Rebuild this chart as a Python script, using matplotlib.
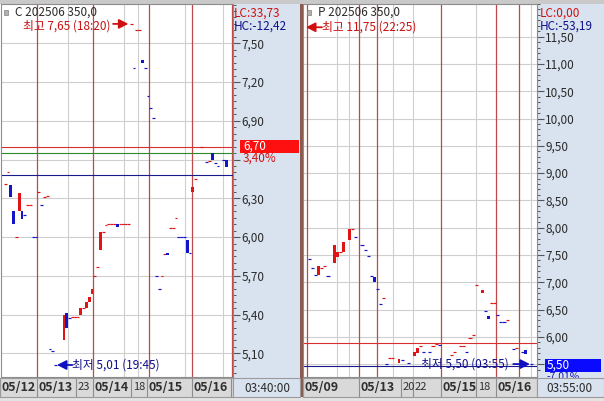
import matplotlib
matplotlib.use("Agg")
import matplotlib.pyplot as plt
from matplotlib.patches import Rectangle
from matplotlib.transforms import offset_copy

plt.rcParams['font.family'] = ['Noto Sans CJK KR', 'DejaVu Sans']

W, H = 604, 401
fig = plt.figure(figsize=(W / 100, H / 100), dpi=100)
fig.patch.set_facecolor('white')

UP = '#e01414'
DOWN = '#1414c8'
SEP = '#c04848'
GRID = '#cfcfcf'
PANEL = '#d9e3ef'
NAVY = '#10108a'
TXT = '#2a2a2a'

# ---------------- Call 202506 350.0 (bar index, open, close, up-tick) ----------------
call_slot = [1, 2, 3, 4, 5, 6, 7, 8, 9, 10, 11, 12,
             13, 14, 15, 16, 17, 18, 19, 22, 23, 24, 25, 26, 27, 28, 29, 30, 31, 32,
             33, 34, 35, 36, 37, 38, 39, 40, 41, 42, 43, 44, 45, 46, 47, 48, 49, 50, 51, 52,
             53, 54, 55, 56, 57, 58, 59, 60, 61, 62, 63, 64, 65, 66, 67,
             68, 69, 71, 73, 74, 75, 76, 77, 79, 80]
call_open = [6.41, 6.50, 6.40, 6.20, 6.00, 6.20, 6.20, 6.17, 6.25, 6.25, 6.00, 6.00,
             6.35, 6.25, 6.31, 6.32, 5.13, 5.12, 5.01, 5.20, 5.41, 5.37, 5.38, 5.38, 5.38, 5.40, 5.45, 5.45, 5.50, 5.56,
             5.70, 5.77, 5.90, 6.04, 6.09, 6.10, 6.10, 6.10, 6.10, 6.10, 6.10, 6.10, 6.10, 7.65, 7.31, 7.60, 7.60, 7.37, 7.31, 7.09,
             7.00, 6.92, 5.70, 5.60, 5.70, 5.87, 5.88, 6.07, 6.07, 6.15, 6.00, 6.00, 6.00, 5.98, 5.88,
             6.35, 6.45, 6.70, 6.58, 6.59, 6.65, 6.57, 6.55, 6.60, 6.60]
call_close = [6.41, 6.50, 6.31, 6.10, 6.00, 6.34, 6.14, 6.17, 6.25, 6.25, 6.00, 6.00,
              6.35, 6.25, 6.31, 6.32, 5.13, 5.12, 5.01, 5.40, 5.30, 5.37, 5.38, 5.38, 5.38, 5.45, 5.45, 5.50, 5.54, 5.60,
              5.70, 5.77, 6.04, 6.04, 6.09, 6.10, 6.10, 6.10, 6.075, 6.10, 6.10, 6.10, 6.10, 7.65, 7.31, 7.60, 7.60, 7.35, 7.31, 7.09,
              7.00, 6.92, 5.70, 5.60, 5.70, 5.87, 5.86, 6.07, 6.07, 6.15, 6.00, 6.00, 6.00, 5.88, 5.88,
              6.39, 6.45, 6.70, 6.58, 6.59, 6.60, 6.57, 6.55, 6.60, 6.545]
call_up = [1, 1, 0, 0, 1, 1, 0, 0, 1, 1, 0, 0,
           1, 0, 1, 1, 0, 0, 0, 1, 0, 0, 1, 1, 1, 1, 1, 1, 1, 1,
           1, 1, 1, 1, 1, 1, 1, 1, 0, 1, 1, 1, 1, 1, 0, 1, 1, 0, 0, 0,
           0, 0, 0, 0, 1, 1, 0, 1, 1, 1, 0, 0, 0, 0, 0,
           1, 1, 1, 0, 1, 0, 0, 0, 0, 0]
call_day_breaks = [12.4, 32.4, 52.4, 67.7, 82.0]
call_hour_lines = [23.4, 43.4, 48.4, 65.2, 78.8]
call_levels = [6.70, 6.65, 6.48]
call_level_colors = ['#d83030', '#2a8a2a', '#1a1a8a']
call_major = [5.10, 5.40, 5.70, 6.00, 6.30, 6.60, 6.90, 7.20, 7.50]
call_hidden_label = 6.60
call_date_pos = [-0.86, 12.4, 26.3, 32.4, 45.9, 51.6, 67.7]
call_date_txt = ['05/12', '05/13', '23', '05/14', '18', '05/15', '05/16']
call_date_edges = [81.6]
call_high, call_high_slot, call_high_time = 7.65, 46, '18:20'
call_low, call_low_slot, call_low_time = 5.01, 19, '19:45'
call_last, call_last_pct = 6.70, '3,40%'
call_lc, call_hc = '33,73', '-12,42'
call_clock = '03:40:00'

# ---------------- Put 202506 350.0 ----------------
put_slot = [0, 1, 2, 3, 4, 5, 6, 8, 9, 10, 11, 13, 14, 15,
            17, 18, 19, 20, 21,
            22, 23, 24, 25, 26, 27, 29, 30, 32, 34, 35, 36, 37, 39, 40, 41, 42,
            46, 47, 49, 50, 51, 52, 53, 54, 56, 57, 58, 59, 60,
            61, 62, 63, 64, 66, 67,
            69, 70, 72]
put_open = [7.42, 7.27, 7.135, 7.135, 7.27, 7.30, 7.12, 7.35, 7.47, 7.56, 7.56, 7.78, 7.97, 7.826,
            7.685, 7.593, 7.484, 7.12, 7.087,
            6.874, 6.60, 6.709, 5.50, 5.62, 5.61, 5.52, 5.58, 5.52, 5.64, 5.70, 5.84, 5.72, 5.72, 5.84, 5.87, 5.855,
            5.665, 5.72, 5.84, 5.84, 5.72, 5.987, 6.037, 6.947, 6.80, 6.476, 6.385, 6.617, 6.617,
            6.403, 6.28, 6.28, 6.30, 5.78, 5.79,
            5.73, 5.75, 5.50]
put_close = [7.42, 7.27, 7.135, 7.29, 7.27, 7.30, 7.12, 7.685, 7.56, 7.56, 7.745, 7.97, 7.97, 7.826,
             7.685, 7.593, 7.484, 7.12, 7.013,
             6.874, 6.60, 6.709, 5.50, 5.62, 5.61, 5.59, 5.58, 5.52, 5.73, 5.79, 5.84, 5.72, 5.72, 5.84, 5.87, 5.855,
             5.665, 5.72, 5.84, 5.84, 5.72, 5.987, 6.037, 6.947, 6.86, 6.476, 6.335, 6.617, 6.617,
             6.403, 6.28, 6.28, 6.30, 5.78, 5.79,
             5.73, 5.69, 5.50]
put_up = [0, 0, 0, 1, 1, 1, 0, 1, 1, 1, 1, 1, 1, 0,
          0, 0, 0, 0, 0,
          0, 0, 1, 0, 1, 1, 1, 0, 0, 1, 1, 1, 0, 0, 1, 1, 0,
          1, 1, 1, 1, 0, 1, 1, 1, 1, 0, 0, 1, 1,
          0, 0, 0, 1, 0, 1,
          0, 0, 0]
put_day_breaks = [-0.8, 16.0, 21.8, 42.7, 60.5, 67.9]
put_hour_lines = [8.9, 12.7, 26.9, 33.4, 54.0, 71.8]
put_levels = [5.89, 5.47]
put_level_colors = ['#d83030', '#1a1a8a']
put_major = [5.50, 6.00, 6.50, 7.00, 7.50, 8.00, 8.50, 9.00, 9.50, 10.00, 10.50, 11.00, 11.50]
put_hidden_label = 5.50
put_date_pos = [-2.1, 16.0, 29.5, 33.4, 42.7, 54.0, 60.5]
put_date_txt = ['05/09', '05/13', '20', '22', '05/15', '18', '05/16']
put_date_edges = []
put_high, put_high_time = 11.75, '22:25'
put_low, put_low_slot, put_low_time = 5.50, 72, '03:55'
put_last, put_last_pct = 5.50, '-7,01%'
put_lc, put_hc = '0,00', '-53,19'
put_clock = '03:55:00'


def box(x0, y0, x1, y1):
    """Figure-fraction rectangle from pixel edges (origin top-left)."""
    return [x0 / W, 1 - y1 / H, (x1 - x0) / W, (y1 - y0) / H]


def fx(px):
    return px / W


def fy(py):
    return 1 - py / H


def fmt(v):
    return f"{v:.2f}".replace('.', ',')


# panel and strip backgrounds
for (x0, y0, x1, y1, c) in [(0, 0, W, 4, '#c9c9c9'), (0, 397, W, H, '#e4e4e4'),
                            (233, 4, 300, 378, PANEL), (537, 4, W, 378, PANEL),
                            (233, 378, 300, 397, PANEL), (537, 378, W, 397, PANEL),
                            (300, 4, 303, 397, '#8a5a50')]:
    fig.add_artist(Rectangle((fx(x0), fy(y1)), (x1 - x0) / W, (y1 - y0) / H,
                             transform=fig.transFigure, facecolor=c, edgecolor='none', zorder=-5))


def panel(rect, xlim, ylim, slots, opens, closes, ups, breaks, hours, levels, level_cols,
          major, minor_step, hidden):
    ax = fig.add_axes(rect)
    ax.set_facecolor('white')
    ax.set_xlim(*xlim)
    ax.set_ylim(*ylim)
    min_h = (ylim[1] - ylim[0]) / 373.0
    for v in major:
        ax.axhline(v, color=GRID, lw=0.8, zorder=0)
    for h in hours:
        ax.axvline(h, color=GRID, lw=0.8, zorder=0)
    for b in breaks:
        ax.axvline(b, color=SEP, lw=0.9, zorder=1)
    for lv, lc in zip(levels, level_cols):
        ax.axhline(lv, color=lc, lw=0.8, zorder=1)
    for s, o, c, u in zip(slots, opens, closes, ups):
        col = UP if u else DOWN
        if o == c:
            ax.hlines(o, s - 0.5, s + 0.5, colors=col, lw=0.85, zorder=3)
        else:
            lo, hi = min(o, c), max(o, c)
            ax.add_patch(Rectangle((s - 0.47, lo), 0.94, max(hi - lo, min_h),
                                   facecolor=col, edgecolor='none', zorder=3))
    ax.yaxis.tick_right()
    ax.set_yticks(major)
    ax.set_yticklabels(['' if abs(v - hidden) < 1e-9 else fmt(v) for v in major])
    n0 = int(round(ylim[0] / minor_step)) + 1
    n1 = int(round(ylim[1] / minor_step))
    ax.set_yticks([k * minor_step for k in range(n0, n1 + 1)], minor=True)
    ax.tick_params(axis='y', which='major', length=5, width=0.8, color='#555555', pad=1,
                   labelsize=8.5, labelcolor=TXT)
    ax.tick_params(axis='y', which='minor', length=2.5, width=0.7, color='#555555')
    ax.set_xticks([])
    for sp in ax.spines.values():
        sp.set_color('#8c8c8c')
        sp.set_linewidth(0.8)
    return ax


axL = panel(box(1, 4, 233, 377), (-0.5, 82.36), (4.917, 7.804),
            call_slot, call_open, call_close, call_up, call_day_breaks, call_hour_lines,
            call_levels, call_level_colors, call_major, 0.05, call_hidden_label)
axR = panel(box(303, 4, 537, 377), (-2.1, 73.7), (5.263, 12.085),
            put_slot, put_open, put_close, put_up, put_day_breaks, put_hour_lines,
            put_levels, put_level_colors, put_major, 0.10, put_hidden_label)

arrow_kw = dict(arrowstyle='-|>,head_length=0.55,head_width=0.28', lw=1.3,
                shrinkA=0, shrinkB=0, mutation_scale=10)

# high / low callouts on the call panel
axL.annotate('', xy=(call_high_slot - 1.0, call_high), xytext=(-11, 0), textcoords='offset points',
             arrowprops=dict(color='#d01010', **arrow_kw))
axL.annotate(f'최고 {fmt(call_high)} ({call_high_time})', xy=(call_high_slot - 1.0, call_high),
             xytext=(-13, -1.5), textcoords='offset points', ha='right', va='center',
             fontsize=8.5, color='#c81010')
axL.annotate('', xy=(call_low_slot + 0.5, call_low), xytext=(11, 0), textcoords='offset points',
             arrowprops=dict(color='#1010c0', **arrow_kw))
axL.annotate(f'최저 {fmt(call_low)} ({call_low_time})', xy=(call_low_slot + 0.5, call_low),
             xytext=(11, 0), textcoords='offset points', ha='left', va='center',
             fontsize=8.5, color=NAVY)

# high / low callouts on the put panel
hi_tr = offset_copy(axR.transData, fig=fig, x=0, y=-3, units='points')
axR.annotate('', xy=(-1.13, put_high), xycoords=hi_tr, xytext=(11.5, 0), textcoords='offset points',
             arrowprops=dict(color='#d01010', **arrow_kw))
axR.annotate(f'최고 {fmt(put_high)} ({put_high_time})', xy=(-1.13, put_high), xycoords=hi_tr,
             xytext=(11.5, 0), textcoords='offset points', ha='left', va='center',
             fontsize=8.5, color='#c81010')
axR.annotate('', xy=(put_low_slot - 0.6, put_low), xytext=(-12, 0), textcoords='offset points',
             arrowprops=dict(color='#1010c0', **arrow_kw))
axR.annotate(f'최저 {fmt(put_low)} ({put_low_time})', xy=(put_low_slot - 0.6, put_low),
             xytext=(-15, 0), textcoords='offset points', ha='right', va='center',
             fontsize=8.5, color=NAVY)

# series titles
for px, name in [(4, 'C 202506 350,0'), (307, 'P 202506 350,0')]:
    fig.add_artist(Rectangle((fx(px), fy(15)), 4 / W, 5 / H, transform=fig.transFigure,
                             facecolor='#b0b0b0', edgecolor='#808080', lw=0.5, zorder=6))
    fig.text(fx(px + 11), fy(12.5), name, fontsize=8.5, color=TXT, va='center', ha='left', zorder=6)

# LC / HC readouts
for px, lc, hc in [(234, call_lc, call_hc), (540, put_lc, put_hc)]:
    fig.text(fx(px), fy(13), f'LC:{lc}', fontsize=8.5, color='#d01010', va='center', zorder=6)
    fig.text(fx(px), fy(26), f'HC:{hc}', fontsize=8.5, color=NAVY, va='center', zorder=6)

# last-price boxes
fig.add_artist(Rectangle((fx(240), fy(153)), 59 / W, 13 / H, transform=fig.transFigure,
                         facecolor='#ff1010', edgecolor='none', zorder=6))
fig.text(fx(243), fy(146.5), fmt(call_last), fontsize=8.5, color='white', va='center', zorder=7)
fig.text(fx(243), fy(158.5), call_last_pct, fontsize=8.5, color='#d01010', va='center', zorder=7)
fig.add_artist(Rectangle((fx(545), fy(372)), 56 / W, 13 / H, transform=fig.transFigure,
                         facecolor='#0a0aff', edgecolor='none', zorder=6))
fig.text(fx(547), fy(364.8), fmt(put_last), fontsize=8.5, color='white', va='center', zorder=7)
fig.text(fx(547), fy(377), put_last_pct, fontsize=7.5, color='#1010c0', va='center', zorder=5)


# date bars
def date_bar(rect, xlim, pos, txt, edges):
    ax = fig.add_axes(rect, zorder=8)
    ax.set_facecolor('#d9d9d9')
    ax.set_xlim(*xlim)
    ax.set_ylim(0, 1)
    ax.set_xticks([])
    ax.set_yticks([])
    for sp in ax.spines.values():
        sp.set_color('#9a9a9a')
        sp.set_linewidth(0.8)
    for p in edges:
        ax.axvline(p, color='#8e8e8e', lw=0.8)
    for p, t in zip(pos, txt):
        ax.axvline(p, color='#8e8e8e', lw=0.8)
        bold = '/' in t
        ax.annotate(t, xy=(p, 0.5), xytext=(1.2, 0), textcoords='offset points',
                    ha='left', va='center', fontsize=9 if bold else 8,
                    fontweight='bold' if bold else 'normal', color='#303030',
                    annotation_clip=False, clip_on=True)
    return ax


date_bar(box(0, 378, 233, 397), (-0.86, 82.36), call_date_pos, call_date_txt, call_date_edges)
date_bar(box(303, 378, 537, 397), (-2.1, 73.7), put_date_pos, put_date_txt, put_date_edges)

# session clocks
fig.add_artist(Rectangle((fx(233), fy(397)), 67 / W, 19 / H, transform=fig.transFigure,
                         facecolor=PANEL, edgecolor='#9a9a9a', lw=0.8, zorder=9))
fig.add_artist(Rectangle((fx(537), fy(397)), 67 / W, 19 / H, transform=fig.transFigure,
                         facecolor=PANEL, edgecolor='#9a9a9a', lw=0.8, zorder=9))
fig.text(fx(244), fy(388), call_clock, fontsize=8.5, color=TXT, va='center', zorder=10)
fig.text(fx(546), fy(388), put_clock, fontsize=8.5, color=TXT, va='center', zorder=10)

fig.savefig('out.png', dpi=100)
